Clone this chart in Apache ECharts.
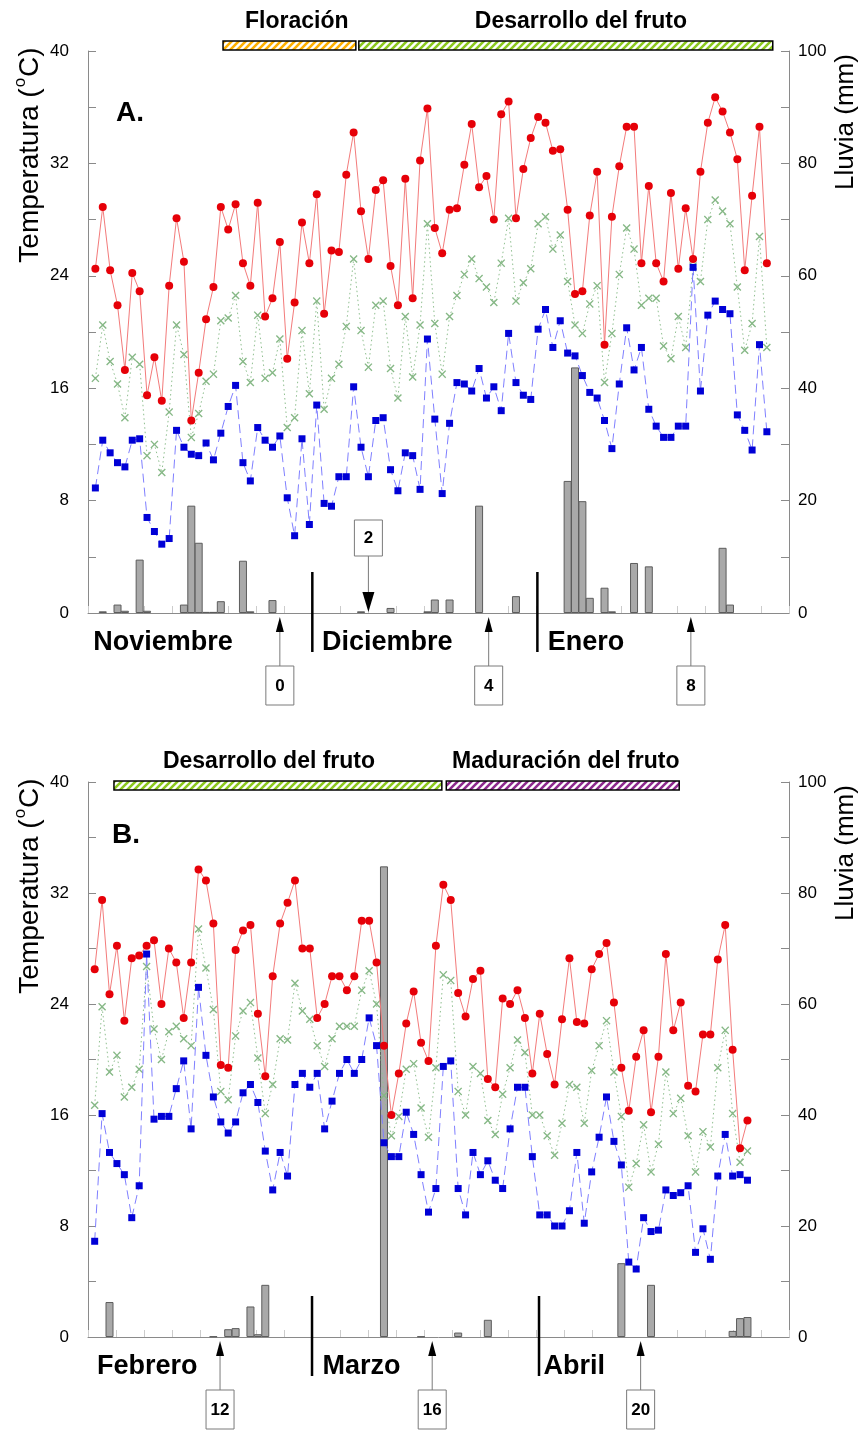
<!DOCTYPE html>
<html>
<head>
<meta charset="utf-8">
<script src="https://cdn.jsdelivr.net/npm/echarts@6.0.0/dist/echarts.min.js"></script>
<style>
  html, body { margin: 0; padding: 0; background: #fff; }
  #chart { width: 860px; height: 1432px; }
</style>
</head>
<body>
<div id="chart"></div>
<script>
// ---------- Panel A: November - January (daily values) ----------
const maxA = [24.5,28.9,24.4,21.9,17.3,24.2,22.9,15.5,18.2,15.1,
  23.3,28.1,25.0,13.7,17.1,20.9,23.2,28.9,27.3,29.1,
  24.9,23.3,29.2,21.1,22.4,26.4,18.1,22.1,27.8,24.9,
  29.8,21.3,25.8,25.7,31.2,34.2,28.6,25.2,30.1,30.8,
  24.7,21.9,30.9,22.4,32.2,35.9,27.4,25.6,28.7,28.8,
  31.9,34.8,30.3,31.1,28.0,35.5,36.4,28.1,31.6,33.8,
  35.3,34.9,32.9,33.0,28.7,22.7,22.9,28.3,31.4,19.1,
  28.2,31.8,34.6,34.6,24.9,30.4,24.9,23.6,29.9,24.5,
  28.8,25.2,31.4,34.9,36.7,35.7,34.2,32.3,24.4,29.7,
  34.6,24.9];
const meanA = [16.7,20.5,17.9,16.3,13.9,18.2,17.7,11.2,12.0,10.0,
  14.3,20.5,18.4,12.5,14.2,16.5,17.0,20.8,21.0,22.6,
  17.9,16.4,21.2,16.7,17.1,19.5,13.2,13.9,20.1,15.6,
  22.2,14.5,16.7,17.7,20.4,25.2,20.1,17.5,21.9,22.2,
  17.4,15.3,21.1,16.8,20.5,27.7,20.6,17.0,21.1,22.6,
  24.1,25.2,23.8,23.2,22.1,24.9,28.1,22.2,23.5,24.5,
  27.7,28.2,25.9,26.9,23.6,20.5,19.9,22.0,23.3,16.4,
  19.9,24.1,27.4,25.9,21.9,22.4,22.4,19.0,18.1,21.1,
  18.9,24.7,23.6,28.0,29.4,28.6,27.7,23.2,18.7,20.6,
  26.8,18.9];
const minA = [8.9,12.3,11.4,10.7,10.4,12.3,12.4,6.8,5.8,4.9,
  5.3,13.0,11.8,11.3,11.2,12.1,10.9,12.8,14.7,16.2,
  10.7,9.4,13.2,12.3,11.8,12.6,8.2,5.5,12.4,6.3,
  14.8,7.8,7.6,9.7,9.7,16.1,11.8,9.7,13.7,13.9,
  10.2,8.7,11.4,11.2,8.8,19.5,13.8,8.5,13.5,16.4,
  16.3,15.8,17.4,15.3,16.1,14.4,19.9,16.4,15.5,15.2,
  20.2,21.6,18.9,20.8,18.5,18.3,16.9,15.7,15.3,13.7,
  11.7,16.3,20.3,17.3,18.9,14.5,13.3,12.5,12.5,13.3,
  13.3,24.6,15.8,21.2,22.2,21.6,21.3,14.1,13.0,11.6,
  19.1,12.9];
const rainA = [0,0.3,0,1.5,0.4,0,9.5,0.4,0,0,
  0,0,1.5,19.1,12.5,0.2,0.2,2.1,0,0,
  9.3,0.3,0,0,2.3,0,0,0,0,0,
  0,0,0,0,0,0,0.3,0,0,0,
  0.9,0,0,0,0,0.3,2.4,0,2.4,0,
  0,0,19.1,0,0,0,0,3.0,0,0,
  0,0,0,0,23.5,43.7,19.9,2.7,0,4.5,
  0.3,0,0,8.9,0,8.3,0,0,0,0,
  0,0,0,0,0,11.6,1.5,0,0,0,
  0,0];
const monthsA = ['Noviembre', 'Diciembre', 'Enero'];
const monthLabelDayA = [-0.3, 30.7, 61.3];
const monthBoundsA = [29.4, 59.9];
const sampleLabelsA = ['0', '2', '4', '8'];
const sampleDaysA = [25, 37, 53.3, 80.7];
const sampleSideA = ['below', 'above', 'below', 'below'];
const phaseNamesA = ['Floración', 'Desarrollo del fruto'];
const phaseStartA = [17.3, 35.7];
const phaseEndA = [35.3, 91.8];
const phaseLabelDayA = [27.3, 65.8];

// ---------- Panel B: February - April (daily values) ----------
const maxB = [26.5,31.5,24.7,28.2,22.8,27.3,27.5,28.2,28.6,24.0,
  28.0,27.0,23.0,27.0,33.7,32.9,29.8,19.6,19.4,27.9,
  29.3,29.7,23.3,18.8,26.0,29.8,31.3,32.9,28.0,28.0,
  23.0,24.0,26.0,26.0,25.0,26.0,30.0,30.0,27.0,21.0,
  16.0,19.0,22.6,24.9,21.2,19.9,28.2,32.6,31.5,24.8,
  23.1,25.8,26.4,18.6,18.0,24.4,24.0,25.0,23.0,19.0,
  23.3,20.4,18.2,22.9,27.3,22.7,22.6,26.5,27.6,28.4,
  24.1,19.4,16.3,20.2,22.1,16.2,20.2,27.6,22.1,24.1,
  18.1,17.7,21.8,21.8,27.2,29.7,20.7,13.6,15.6];
const meanB = [16.7,23.8,19.1,20.3,17.3,18.0,19.3,26.7,22.2,20.0,
  22.0,22.4,21.5,21.0,29.4,26.6,23.6,17.7,17.1,21.7,
  23.5,24.1,20.1,16.1,18.2,21.5,21.4,25.5,23.5,22.9,
  21.0,19.5,21.5,22.4,22.4,22.4,25.0,26.4,24.0,17.4,
  14.5,15.9,19.3,19.7,16.5,14.4,19.4,26.1,25.7,17.7,
  16.0,19.5,19.0,15.6,14.6,17.5,19.4,21.4,20.5,16.0,
  16.0,14.5,13.1,15.4,18.2,18.0,15.4,19.2,21.0,22.8,
  19.1,15.9,10.8,12.5,15.3,11.9,13.9,19.1,16.1,17.2,
  14.5,11.9,14.8,13.7,19.4,22.1,16.1,12.6,13.4];
const minB = [6.9,16.1,13.3,12.5,11.7,8.6,10.9,27.6,15.7,15.9,
  15.9,17.9,19.9,15.0,25.2,20.3,17.3,15.5,14.7,15.5,
  17.6,18.2,16.9,13.4,10.6,13.3,11.6,18.2,19.0,18.0,
  19.0,15.0,17.0,19.0,20.0,19.0,20.0,23.0,21.0,14.0,
  13.0,13.0,16.2,14.6,11.7,9.0,10.7,19.5,19.9,10.7,
  8.8,13.3,11.7,12.7,11.3,10.7,15.0,18.0,18.0,13.0,
  8.8,8.8,8.0,8.0,9.1,13.3,8.2,11.9,14.4,17.3,
  14.1,12.4,5.4,4.9,8.6,7.6,7.7,10.6,10.2,10.4,
  10.9,6.1,7.8,5.6,11.6,14.6,11.6,11.7,11.3];
const rainB = [0,0,6.3,0,0,0,0,0,0,0,
  0,0,0,0,0,0,0.1,0,1.4,1.6,
  0,5.5,0.5,9.4,0,0,0,0,0,0,
  0,0,0,0,0,0,0,0,0,84.8,
  0,0,0,0,0.1,0,0,0,0,0.8,
  0,0,0,3.1,0,0,0,0,0,0,
  0,0,0,0,0,0,0,0,0,0,
  0,13.3,0,0,0,9.4,0,0,0,0,
  0,0,0,0,0,0,1.1,3.4,3.6];
const monthsB = ['Febrero', 'Marzo', 'Abril'];
const monthLabelDayB = [0.3, 30.7, 60.5];
const monthBoundsB = [29.3, 59.9];
const sampleLabelsB = ['12', '16', '20'];
const sampleDaysB = [16.9, 45.5, 73.6];
const sampleSideB = ['below', 'below', 'below'];
const phaseNamesB = ['Desarrollo del fruto', 'Maduración del fruto'];
const phaseStartB = [2.6, 47.4];
const phaseEndB = [46.8, 78.8];
const phaseLabelDayB = [23.5, 63.5];

// ---------- styling ----------
const FONT = '"Liberation Sans", Arial, Helvetica, sans-serif';
const AXIS_GREY = '#8a8a8a';
const PHASE_COLORS = {
  'Floración': '#ffb000',
  'Desarrollo del fruto': '#8cc81e',
  'Maduración del fruto': '#8e2a8e'
};
const X_SYMBOL = 'path://M0,1.2L1.2,0L5,3.8L8.8,0L10,1.2L6.2,5L10,8.8L8.8,10L5,6.2L1.2,10L0,8.8L3.8,5Z';

const patternCache = {};
function stripePattern(color) {
  if (patternCache[color]) return patternCache[color];
  const s = 7;
  const c = document.createElement('canvas');
  c.width = s; c.height = s;
  const g = c.getContext('2d');
  g.fillStyle = '#ffffff';
  g.fillRect(0, 0, s, s);
  g.strokeStyle = color;
  g.lineWidth = 2.6;
  g.beginPath();
  g.moveTo(0, s); g.lineTo(s, 0);
  g.moveTo(-s / 2, s / 2); g.lineTo(s / 2, -s / 2);
  g.moveTo(s / 2, s * 1.5); g.lineTo(s * 1.5, s / 2);
  g.stroke();
  patternCache[color] = { image: c, repeat: 'repeat' };
  return patternCache[color];
}

const panels = [
  {
    top: 51, height: 562, xMin: -1, xMax: 94, barOffset: -10,
    max: maxA, mean: meanA, min: minA, rain: rainA,
    months: monthsA, monthLabelDay: monthLabelDayA, monthBounds: monthBoundsA,
    sampleLabels: sampleLabelsA, sampleDays: sampleDaysA, sampleSide: sampleSideA,
    phaseNames: phaseNamesA, phaseStart: phaseStartA, phaseEnd: phaseEndA, phaseLabelDay: phaseLabelDayA
  },
  {
    top: 782, height: 555, xMin: -0.9, xMax: 93.6, barOffset: -1,
    max: maxB, mean: meanB, min: minB, rain: rainB,
    months: monthsB, monthLabelDay: monthLabelDayB, monthBounds: monthBoundsB,
    sampleLabels: sampleLabelsB, sampleDays: sampleDaysB, sampleSide: sampleSideB,
    phaseNames: phaseNamesB, phaseStart: phaseStartB, phaseEnd: phaseEndB, phaseLabelDay: phaseLabelDayB
  }
];

const grid = [], xAxis = [], yAxis = [], series = [];

panels.forEach((P, g) => {
  grid.push({ left: 88, width: 701, top: P.top, height: P.height });

  // day axis carrying the data (hidden)
  xAxis.push({ gridIndex: g, type: 'value', min: P.xMin, max: P.xMax, show: false });
  // bottom axis line with its short inner ticks
  xAxis.push({
    gridIndex: g, type: 'value', min: 0, max: 25, interval: 1, position: 'bottom',
    axisLine: { show: true, onZero: false, lineStyle: { color: AXIS_GREY, width: 1 } },
    axisTick: { show: true, inside: true, length: 7, lineStyle: { color: '#cccccc', width: 1 } },
    axisLabel: { show: false }, splitLine: { show: false }
  });

  yAxis.push({
    gridIndex: g, type: 'value', min: 0, max: 40, interval: 4, position: 'left',
    axisLine: { show: true, onZero: false, lineStyle: { color: AXIS_GREY, width: 1 } },
    axisTick: { show: true, inside: true, length: 8, lineStyle: { color: AXIS_GREY } },
    axisLabel: { margin: 19, fontSize: 17, color: '#000', fontFamily: FONT,
      formatter: v => (v % 8 === 0 ? String(v) : '') },
    splitLine: { show: false }
  });
  yAxis.push({
    gridIndex: g, type: 'value', min: 0, max: 100, interval: 10, position: 'right',
    axisLine: { show: true, onZero: false, lineStyle: { color: AXIS_GREY, width: 1 } },
    axisTick: { show: true, inside: true, length: 8, lineStyle: { color: AXIS_GREY } },
    axisLabel: { margin: 9, fontSize: 17, color: '#000', fontFamily: FONT,
      formatter: v => (v % 20 === 0 ? String(v) : '') },
    splitLine: { show: false }
  });

  const xi = 2 * g, yT = 2 * g, yR = 2 * g + 1;

  // daily rainfall
  series.push({
    type: 'bar', xAxisIndex: xi, yAxisIndex: yR, barWidth: 8, z: 1, silent: true,
    data: P.rain.map((v, i) => [i, v]).filter(d => d[1] > 0),
    itemStyle: { color: '#a9a9a9', borderColor: '#5c5c5c', borderWidth: 1 }
  });
  // mean temperature
  series.push({
    type: 'line', xAxisIndex: xi, yAxisIndex: yT, z: 3, silent: true,
    data: P.mean.map((v, i) => [i, v]),
    symbol: X_SYMBOL, symbolSize: 8,
    lineStyle: { color: '#8fbf8f', width: 1, type: [1.5, 3] },
    itemStyle: { color: '#86b886' }
  });
  // maximum temperature
  series.push({
    type: 'line', xAxisIndex: xi, yAxisIndex: yT, z: 4, silent: true,
    data: P.max.map((v, i) => [i, v]),
    symbol: 'circle', symbolSize: 8,
    lineStyle: { color: '#f37b7b', width: 1 },
    itemStyle: { color: '#e60008' }
  });
  // minimum temperature
  series.push({
    type: 'line', xAxisIndex: xi, yAxisIndex: yT, z: 5, silent: true,
    data: P.min.map((v, i) => [i, v]),
    symbol: 'rect', symbolSize: 7,
    lineStyle: { color: '#7f7fff', width: 1, type: [9, 5] },
    itemStyle: { color: '#0000d6' }
  });

  // phenological phase bars above the plot
  series.push({
    type: 'custom', xAxisIndex: xi, yAxisIndex: yT, z: 10, silent: true, clip: false,
    data: P.phaseNames.map((n, i) => [P.phaseStart[i], P.phaseEnd[i]]),
    renderItem: (params, api) => {
      const i = params.dataIndex;
      const a = api.coord([P.phaseStart[i], 40]);
      const b = api.coord([P.phaseEnd[i], 40]);
      const yTop = a[1] + P.barOffset;
      const lx = api.coord([P.phaseLabelDay[i], 40])[0];
      return {
        type: 'group',
        children: [
          { type: 'rect', shape: { x: a[0], y: yTop, width: b[0] - a[0], height: 9 },
            style: { fill: stripePattern(PHASE_COLORS[P.phaseNames[i]]), stroke: '#000', lineWidth: 1.5 } },
          { type: 'text', x: lx, y: yTop - 19,
            style: { text: P.phaseNames[i], fontSize: 23, fontWeight: 'bold', fontFamily: FONT,
              fill: '#000', align: 'center', verticalAlign: 'middle' } }
        ]
      };
    }
  });

  // sampling dates (boxed numbers with arrows)
  series.push({
    type: 'custom', xAxisIndex: xi, yAxisIndex: yT, z: 10, silent: true, clip: false,
    data: P.sampleDays.map(d => [d, 0]),
    renderItem: (params, api) => {
      const i = params.dataIndex;
      const p = api.coord([P.sampleDays[i], 0]);
      const x = p[0], y0 = p[1];
      let children;
      if (P.sampleSide[i] === 'below') {
        children = [
          { type: 'line', shape: { x1: x, y1: y0 + 18, x2: x, y2: y0 + 53 }, style: { stroke: '#7a7a7a', lineWidth: 1 } },
          { type: 'polygon', shape: { points: [[x, y0 + 4], [x - 4, y0 + 19], [x + 4, y0 + 19]] }, style: { fill: '#000' } },
          { type: 'rect', shape: { x: x - 14, y: y0 + 53, width: 28, height: 39 }, style: { fill: '#fff', stroke: '#7a7a7a', lineWidth: 1 } },
          { type: 'text', x: x, y: y0 + 73, style: { text: P.sampleLabels[i], fontSize: 17, fontWeight: 'bold', fontFamily: FONT, fill: '#000', align: 'center', verticalAlign: 'middle' } }
        ];
      } else {
        children = [
          { type: 'line', shape: { x1: x, y1: y0 - 57, x2: x, y2: y0 - 20 }, style: { stroke: '#7a7a7a', lineWidth: 1 } },
          { type: 'polygon', shape: { points: [[x, y0 - 1], [x - 6, y0 - 21], [x + 6, y0 - 21]] }, style: { fill: '#000' } },
          { type: 'rect', shape: { x: x - 14, y: y0 - 93, width: 28, height: 36 }, style: { fill: '#fff', stroke: '#7a7a7a', lineWidth: 1 } },
          { type: 'text', x: x, y: y0 - 75, style: { text: P.sampleLabels[i], fontSize: 17, fontWeight: 'bold', fontFamily: FONT, fill: '#000', align: 'center', verticalAlign: 'middle' } }
        ];
      }
      return { type: 'group', children };
    }
  });

  // month names and month separators
  series.push({
    type: 'custom', xAxisIndex: xi, yAxisIndex: yT, z: 10, silent: true, clip: false,
    data: [[0, 0]],
    renderItem: (params, api) => {
      const y0 = api.coord([0, 0])[1];
      const children = [];
      P.monthBounds.forEach(d => {
        const x = api.coord([d, 0])[0];
        children.push({ type: 'line', shape: { x1: x, y1: y0 - 41, x2: x, y2: y0 + 39 },
          style: { stroke: '#000', lineWidth: 2.5 } });
      });
      P.months.forEach((m, k) => {
        const x = api.coord([P.monthLabelDay[k], 0])[0];
        children.push({ type: 'text', x: x, y: y0 + 30,
          style: { text: m, fontSize: 27, fontWeight: 'bold', fontFamily: FONT, fill: '#000',
            align: 'left', verticalAlign: 'middle' } });
      });
      return { type: 'group', children };
    }
  });
});

function tempTitle(y) {
  return {
    type: 'text', x: 28, y: y, rotation: Math.PI / 2, silent: true,
    style: {
      text: '{t|Temperatura (}{s|o}{t|C)}',
      align: 'center', verticalAlign: 'middle',
      rich: {
        t: { fontSize: 28, fontFamily: FONT, fill: '#000', lineHeight: 32, verticalAlign: 'bottom' },
        s: { fontSize: 17, fontFamily: FONT, fill: '#000', lineHeight: 32, verticalAlign: 'top', padding: [0, 1, 13, 1] }
      }
    }
  };
}
function rainTitle(y) {
  return {
    type: 'text', x: 846, y: y, rotation: Math.PI / 2, silent: true,
    style: { text: 'Lluvia (mm)', fontSize: 26, fontFamily: FONT, fill: '#000', align: 'center', verticalAlign: 'middle' }
  };
}

const chart = echarts.init(document.getElementById('chart'), null, { renderer: 'canvas' });
chart.setOption({
  animation: false,
  backgroundColor: '#ffffff',
  grid, xAxis, yAxis, series,
  graphic: [
    { type: 'text', x: 116, y: 113, silent: true,
      style: { text: 'A.', fontSize: 28, fontWeight: 'bold', fontFamily: FONT, fill: '#000', verticalAlign: 'middle' } },
    { type: 'text', x: 112, y: 835, silent: true,
      style: { text: 'B.', fontSize: 28, fontWeight: 'bold', fontFamily: FONT, fill: '#000', verticalAlign: 'middle' } },
    tempTitle(155), tempTitle(886),
    rainTitle(122), rainTitle(853)
  ]
});
</script>
</body>
</html>
